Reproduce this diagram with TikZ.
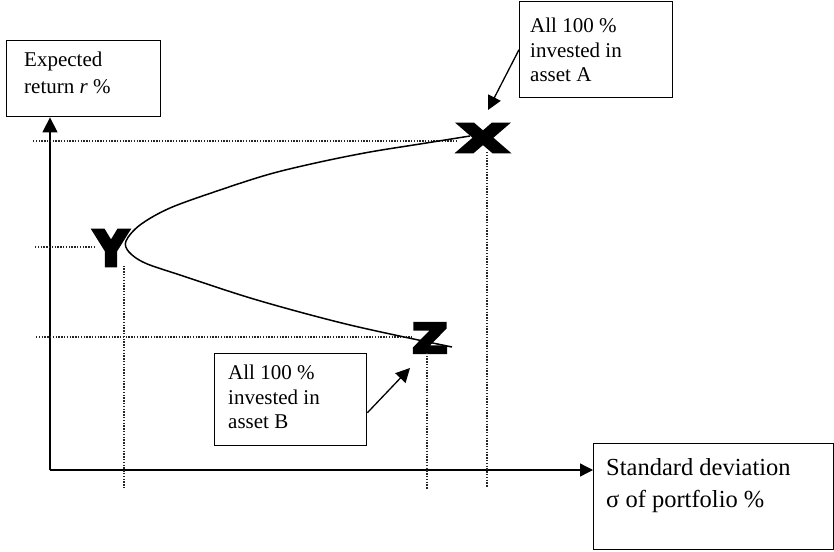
\documentclass[tikz,border=0pt]{standalone}
\usepackage{fontspec}
\setmainfont{Liberation Serif}
\newfontfamily\heavyfont{DejaVu Sans Bold}[FakeBold=8]
\usetikzlibrary{arrows.meta,calc}

\tikzset{
  box/.style={draw, line width=1.4pt, inner sep=0pt, anchor=north west},
  label/.style={anchor=north west, inner sep=0pt, align=left,
    font=\fontsize{21}{24.5}\selectfont},
  axis/.style={line width=1.4pt, -{Triangle[length=15pt,width=15pt]}},
  pointer/.style={line width=1.3pt, -{Triangle[length=14pt,width=14pt]}},
  guide/.style={line width=1.4pt, dash pattern=on 1.4pt off 1.4pt, black!85},
  curve/.style={line width=1.5pt},
  marker/.style={inner sep=0pt},
}

\begin{document}
\begin{tikzpicture}[x=1pt, y=-1pt]
\useasboundingbox (0,0) rectangle (834,551);

% text boxes
\node[box, minimum width=154pt, minimum height=76pt] (bR) at (6,40) {};
\node[box, minimum width=153pt, minimum height=96pt] (bA) at (519,1) {};
\node[box, minimum width=152pt, minimum height=92pt] (bB) at (214,353) {};
\node[box, minimum width=240pt, minimum height=106pt] (bS) at (593,443) {};

\node[label, font=\fontsize{21}{27}\selectfont] (tR) at (24,52) {Expected\\return \textit{r} \%};
\node[label] (tA) at (530,18) {All 100 \%\\invested in\\asset A};
\node[label] (tB) at (228,365) {All 100 \%\\invested in\\asset B};
\node[label, font=\fontsize{24.5}{32}\selectfont] (tS) at (606,458)
  {Standard deviation\\σ of portfolio \%};

% axes
\coordinate (O) at (50,470);
\draw[axis] (O) -- (O |- bR.south);
\draw[axis, -{Triangle[length=13pt,width=13pt]}] (O) -- (O -| bS.west);

% portfolio points
\node[marker, font=\heavyfont\fontsize{38}{38}\selectfont, xscale=1.7] (X) at (483,138) {X};
\node[marker, font=\heavyfont\fontsize{48}{48}\selectfont, xscale=0.95] (Y) at (111,248) {Y};
\node[marker, font=\heavyfont\fontsize{40}{40}\selectfont, xscale=1.2] (Z) at (430,338) {Z};

% dotted guide lines to the axes
\coordinate (gX) at (33,141);
\coordinate (gY) at (35,247);
\coordinate (gZ) at (36,337);
\coordinate (fY) at (124,488);
\coordinate (fZ) at (427,489);
\coordinate (fX) at (487,488);
\draw[guide] (gX) -- (gX -| X.west);
\draw[guide] (gY) -- (gY -| Y.west);
\draw[guide] (gZ) -- (gZ -| Z.west);
\draw[guide] (fY |- Y.south) -- (fY);
\draw[guide] (fZ |- Z.south) -- (fZ);
\draw[guide] (fX |- X.south) -- (fX);

% frontier through the three portfolios
\draw[curve] plot[smooth, tension=0.55] coordinates {
  (470,136) (420,144) (370,152) (320,162) (270,174) (220,190)
  (170,208) (140,225) (126,241) (129,252) (145,263) (180,275)
  (257,300) (350,325) (452,347)};

% callout arrows
\coordinate (tipA) at (488,110);
\coordinate (tipB) at (410,368);
\draw[pointer] (bA.west) -- (tipA);
\draw[pointer] ([yshift=-13pt]bB.east) -- (tipB);
\end{tikzpicture}
\end{document}
